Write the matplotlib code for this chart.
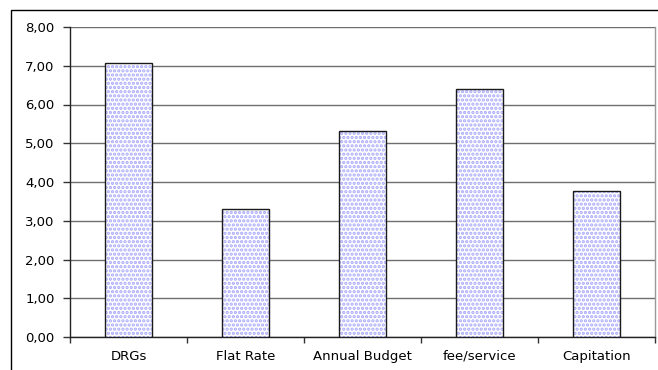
import matplotlib
matplotlib.use("Agg")
import matplotlib.pyplot as plt
from matplotlib.patches import Rectangle
from matplotlib.ticker import FuncFormatter, FixedLocator
import numpy as np

categories = ["DRGs", "Flat Rate", "Annual Budget", "fee/service", "Capitation"]
values = [7.06, 3.31, 5.32, 6.39, 3.78]
y_ticks = [0, 1, 2, 3, 4, 5, 6, 7, 8]

plt.rcParams["font.family"] = ["DejaVu Sans"]
plt.rcParams["hatch.linewidth"] = 1.6

W, H = 658, 370
fig = plt.figure(figsize=(W / 100, H / 100), dpi=100)

# outer chart frame
fig.patches.append(Rectangle((10.5 / W, -0.1), 1.2, 1.1 - 9.5 / H,
                             transform=fig.transFigure, fill=False,
                             edgecolor="black", linewidth=1.0))

ax = fig.add_axes([70 / W, 33 / H, 585 / W, 310 / H])
x = np.arange(len(categories))

# dotted fill, then the dark outline on top
ax.bar(x, values, width=0.4, color="white", edgecolor="#a8a8fa",
       hatch="....", linewidth=0, zorder=3)
ax.bar(x, values, width=0.4, fill=False, edgecolor="#1a1a1a",
       linewidth=1.0, zorder=4)

ax.set_xlim(-0.5, len(categories) - 0.5)
ax.set_ylim(0, 8)
ax.set_yticks(y_ticks)
ax.yaxis.set_major_formatter(FuncFormatter(lambda v, p: f"{v:.2f}".replace(".", ",")))
ax.grid(axis="y", color="#6e6e6e", linewidth=1.0, zorder=1)

ax.set_xticks(x)
ax.set_xticklabels(categories, va="baseline")
ax.xaxis.set_minor_locator(FixedLocator(np.arange(len(categories) + 1) - 0.5))
ax.tick_params(axis="x", which="major", length=0, pad=16.5, labelsize=9.5)
ax.tick_params(axis="x", which="minor", length=4, direction="out", width=1, color="#333333")
ax.tick_params(axis="y", length=5, direction="out", width=1, labelsize=9.5, pad=6, color="#333333")

for side in ["left", "bottom"]:
    ax.spines[side].set_color("#222222")
    ax.spines[side].set_linewidth(1.0)
ax.spines["top"].set_visible(False)
ax.spines["right"].set_color("#999999")
ax.spines["right"].set_linewidth(1.0)

fig.savefig("out.png", dpi=100)
